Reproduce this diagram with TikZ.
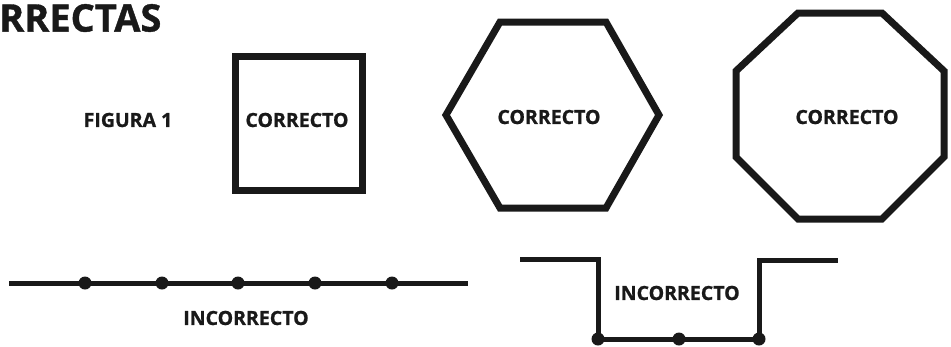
\documentclass[tikz,border=0pt]{standalone}
\usepackage{fontspec}
\setmainfont{Open Sans}[BoldFeatures={FakeBold=1}]
\begin{document}
\begin{tikzpicture}[x=1pt,y=-1pt,
  lbl/.style={font=\bfseries\fontsize{19.5}{22}\selectfont, text=black!90, inner sep=0pt},
  outline/.style={draw=black!90, line width=7pt, line join=miter},
  wire/.style={draw=black!90, line width=5pt},
  dot/.style={circle, fill=black!90, minimum size=13pt, inner sep=0pt}]
\useasboundingbox (0,0) rectangle (951,346);
% title
\node[font=\bfseries\fontsize{38}{44}\selectfont, text=black!90, anchor=west, inner sep=0pt] (title) at (-1,18) {RRECTAS};
\node[lbl] (fig) at (128,120) {FIGURA 1};
% square
\draw[outline] (235,56) rectangle (362,190);
\node[lbl] (sq) at (297,120) {CORRECTO};
% hexagon
\draw[outline] (500,22) -- (606,22) -- (659,115) -- (606,208) -- (500,208) -- (446,115) -- cycle;
\node[lbl] (hex) at (549,117) {CORRECTO};
% octagon
\draw[outline] (798,13) -- (882,13) -- (944,71) -- (944,157) -- (882,219) -- (798,219) -- (736,157) -- (736,71) -- cycle;
\node[lbl] (oct) at (847,117) {CORRECTO};
% dotted line
\coordinate (l0) at (9,283);
\coordinate (l6) at (468,283);
\node[dot] (d1) at (85,283) {};
\node[dot] (d2) at (162,283) {};
\node[dot] (d3) at (238,283) {};
\node[dot] (d4) at (315,283) {};
\node[dot] (d5) at (392,283) {};
\draw[wire] (l0) -- (d1.center) -- (d2.center) -- (d3.center) -- (d4.center) -- (d5.center) -- (l6);
\node[lbl] (inc1) at (246,318) {INCORRECTO};
% step line
\coordinate (s0) at (520,259);
\coordinate (s1) at (598,259);
\coordinate (s4) at (759,260);
\coordinate (s5) at (838,260);
\node[dot] (e1) at (598,339) {};
\node[dot] (e2) at (679,339) {};
\node[dot] (e3) at (759,339) {};
\draw[wire, line join=miter] (s0) -- (s1) -- (e1.center) -- (e2.center) -- (e3.center) -- (s4) -- (s5);
\node[lbl] (inc2) at (677,293) {INCORRECTO};
\end{tikzpicture}
\end{document}
